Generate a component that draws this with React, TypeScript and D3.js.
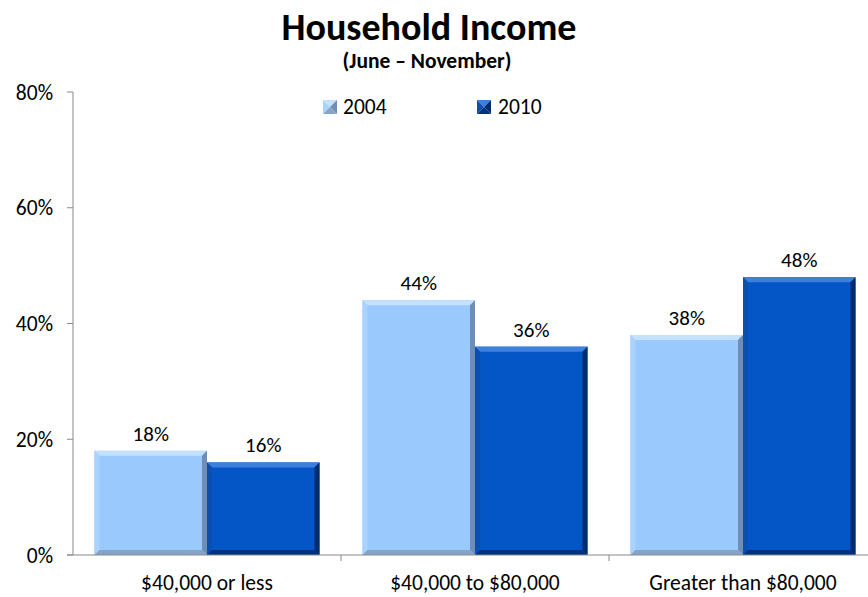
import React from 'react';
import * as d3 from 'd3';

const categories = ['$40,000 or less', '$40,000 to $80,000', 'Greater than $80,000'];
const seriesNames = ['2004', '2010'];
const values2004 = [18, 44, 38];
const values2010 = [16, 36, 48];
const yTicks = [0, 20, 40, 60, 80];

const FONT = "Carlito, Calibri, Lato, 'Open Sans', sans-serif";

// bevel palettes: face, top, left, right, bottom
const palettes = [
  { face: '#99C9FD', top: '#C4E1FF', left: '#A9D3FF', right: '#6F8DB6', bottom: '#86A3C8' },
  { face: '#0456C6', top: '#3C7FDC', left: '#0B4FB0', right: '#002C6C', bottom: '#00337E' },
];

const W = 868;
const H = 597;
const margin = { left: 73, right: -9, top: 92, bottom: 42 };

const BevelBar: React.FC<{ x: number; y: number; w: number; h: number; p: typeof palettes[0] }> = ({ x, y, w, h, p }) => {
  const b = Math.min(5, h / 2);
  const x2 = x + w;
  const y2 = y + h;
  return (
    <g>
      <rect x={x} y={y} width={w} height={h} fill={p.face} />
      <polygon points={`${x},${y} ${x2},${y} ${x2 - b},${y + b} ${x + b},${y + b}`} fill={p.top} />
      <polygon points={`${x},${y} ${x + b},${y + b} ${x + b},${y2 - b} ${x},${y2}`} fill={p.left} />
      <polygon points={`${x2},${y} ${x2},${y2} ${x2 - b},${y2 - b} ${x2 - b},${y + b}`} fill={p.right} />
      <polygon points={`${x},${y2} ${x + b},${y2 - b} ${x2 - b},${y2 - b} ${x2},${y2}`} fill={p.bottom} />
    </g>
  );
};

const LegendIcon: React.FC<{ x: number; y: number; s: number; p: typeof palettes[0] }> = ({ x, y, s, p }) => {
  const cx = x + s / 2;
  const cy = y + s / 2;
  return (
    <g>
      <polygon points={`${x},${y} ${x + s},${y} ${cx},${cy}`} fill={p.top} />
      <polygon points={`${x},${y} ${cx},${cy} ${x},${y + s}`} fill={p.left} />
      <polygon points={`${x + s},${y} ${x + s},${y + s} ${cx},${cy}`} fill={p.right} />
      <polygon points={`${x},${y + s} ${cx},${cy} ${x + s},${y + s}`} fill={p.bottom} />
    </g>
  );
};

export default function App() {
  const innerRight = W - margin.right;
  const innerBottom = H - margin.bottom;

  const x0 = d3.scaleBand<string>().domain(categories).range([margin.left, innerRight]).paddingInner(0).paddingOuter(0);
  const groupPad = 21.5;
  const x1 = d3
    .scaleBand<string>()
    .domain(seriesNames)
    .range([groupPad, x0.bandwidth() - groupPad])
    .padding(0);
  const y = d3.scaleLinear().domain([0, 80]).range([innerBottom, margin.top]);

  const series = [values2004, values2010];

  return (
    <svg width={W} height={H} style={{ position: 'absolute', left: 0, top: 0, background: '#fff' }} fontFamily={FONT}>
      <text x={429} y={40} textAnchor="middle" fontSize={38} fontWeight="bold" fill="#000">
        Household Income
      </text>
      <text x={427} y={68} textAnchor="middle" fontSize={21.5} fontWeight="bold" fill="#000">
        (June – November)
      </text>

      {/* legend */}
      {seriesNames.map((s, i) => (
        <g key={s}>
          <LegendIcon x={323 + i * 154} y={100} s={14} p={palettes[i]} />
          <text x={343 + i * 155} y={114} fontSize={21.5} fill="#000">
            {s}
          </text>
        </g>
      ))}

      {/* bars */}
      {categories.map((c, ci) => (
        <g key={c} transform={`translate(${x0(c)},0)`}>
          {seriesNames.map((s, si) => {
            const v = series[si][ci];
            const bx = x1(s)!;
            const by = y(v);
            return (
              <g key={s}>
                <BevelBar x={bx} y={by} w={x1.bandwidth()} h={innerBottom - by} p={palettes[si]} />
                <text x={bx + x1.bandwidth() / 2} y={by - 10} textAnchor="middle" fontSize={21} fill="#000">
                  {v}%
                </text>
              </g>
            );
          })}
          <text x={x0.bandwidth() / 2} y={590} textAnchor="middle" fontSize={21.5} fill="#000">
            {c}
          </text>
        </g>
      ))}

      {/* y axis */}
      <line x1={margin.left} x2={margin.left} y1={margin.top} y2={innerBottom} stroke="#898989" strokeWidth={1} />
      {yTicks.map((t) => (
        <g key={t}>
          <line x1={margin.left - 6} x2={margin.left} y1={y(t)} y2={y(t)} stroke="#898989" />
          <text x={53} y={y(t)} dy="0.35em" textAnchor="end" fontSize={21.5} fill="#000">
            {t}%
          </text>
        </g>
      ))}

      {/* x axis */}
      <line x1={margin.left - 6} x2={innerRight} y1={innerBottom} y2={innerBottom} stroke="#898989" />
      {categories.map((c) => (
        <line key={c} x1={x0(c)! + x0.bandwidth()} x2={x0(c)! + x0.bandwidth()} y1={innerBottom} y2={innerBottom + 6} stroke="#898989" />
      ))}
    </svg>
  );
}
